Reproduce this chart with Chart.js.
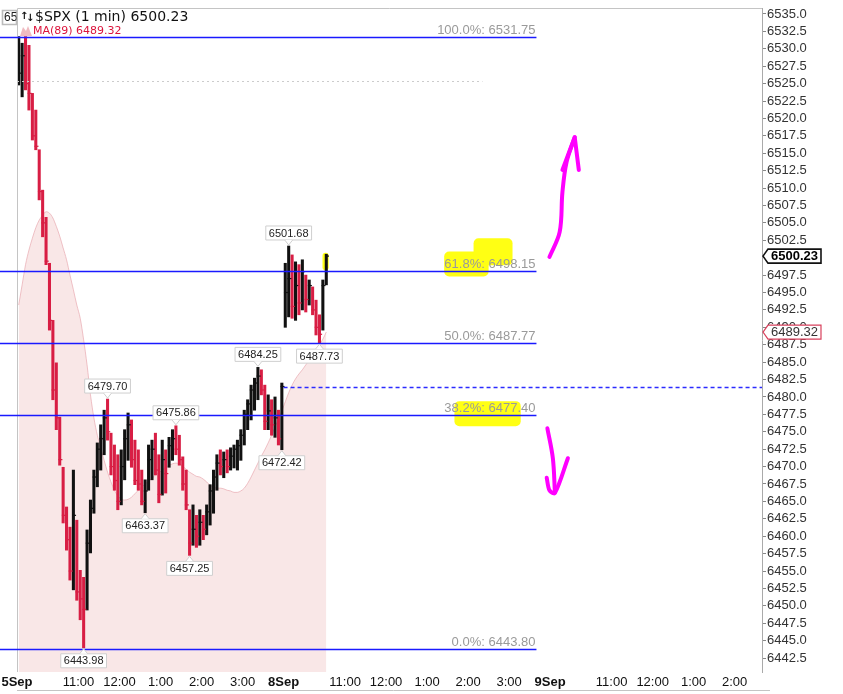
<!DOCTYPE html>
<html lang="en">
<head>
<meta charset="UTF-8">
<title>$SPX (1 min)</title>
<script src="https://cdn.jsdelivr.net/npm/chart.js"></script>
<style>
  html, body { margin: 0; padding: 0; background: #fff; }
  .wrap { width: 843px; height: 694px; position: relative; }
</style>
</head>
<body>
<div class="wrap"><canvas id="spx"></canvas></div>
<script>
// trading minutes counted from 5 Sep 09:30, one bar = 5 minutes
const barMinutes = 5;

// bars (5 Sep full session, then 8 Sep first hour)
const barHigh = [
  6531.75, 6530.8, 6531.75, 6530.5, 6523.6, 6521.2, 6515.5, 6509.7, 6505.8, 6499.2,
  6491.0, 6484.9, 6477.1, 6469.9, 6464.2, 6461.3, 6469.5, 6462.3, 6455.1, 6454.1,
  6460.9, 6465.2, 6469.5, 6473.4, 6476.0, 6478.1, 6479.70, 6474.8, 6473.1, 6471.7,
  6472.4, 6475.3, 6477.7, 6476.7, 6473.8, 6472.4, 6469.5, 6468.1, 6473.1, 6473.8,
  6474.8, 6471.7, 6473.8, 6472.4, 6474.2, 6475.3, 6475.86, 6474.5, 6471.4, 6469.5,
  6463.8, 6464.5, 6463.0, 6463.8, 6463.0, 6464.5, 6467.4, 6469.5, 6471.7, 6472.4,
  6472.1, 6472.4, 6472.7, 6473.1, 6473.8, 6475.3, 6478.1, 6479.6, 6481.7, 6482.7,
  6484.25, 6483.9, 6481.7, 6480.3, 6479.6, 6480.0, 6478.1, 6482.0,
  6499.2, 6501.68, 6500.4, 6499.4, 6499.0, 6499.7, 6497.5, 6496.8, 6495.8, 6493.9, 6491.8, 6496.8, 6500.5
];
const barLow = [
  6524.8, 6523.1, 6524.1, 6521.2, 6516.9, 6515.5, 6508.3, 6503.0, 6499.0, 6489.6,
  6479.6, 6475.3, 6470.2, 6461.9, 6458.0, 6453.7, 6452.3, 6450.8, 6448.0, 6443.98,
  6449.4, 6457.6, 6463.3, 6467.1, 6469.5, 6471.7, 6473.8, 6468.8, 6466.6, 6463.8,
  6464.5, 6468.1, 6470.9, 6469.9, 6467.4, 6466.6, 6464.5, 6463.37, 6466.6, 6468.1,
  6468.8, 6464.8, 6465.9, 6466.2, 6469.9, 6470.9, 6471.7, 6470.2, 6466.6, 6463.8,
  6457.25, 6458.7, 6458.4, 6458.7, 6459.5, 6460.2, 6461.6, 6463.3, 6466.6, 6468.8,
  6468.4, 6469.1, 6469.5, 6469.8, 6469.5, 6470.9, 6473.1, 6475.3, 6476.7, 6478.1,
  6479.6, 6480.3, 6475.3, 6475.3, 6474.5, 6474.2, 6473.1, 6472.42,
  6490.0, 6491.5, 6491.3, 6491.0, 6491.8, 6492.5, 6492.2, 6493.2, 6491.8, 6488.9, 6487.73, 6489.6, 6496.1
];
const barClose = [
  6526.5, 6529.0, 6525.0, 6523.6, 6517.5, 6516.0, 6509.5, 6505.0, 6499.5, 6491.0,
  6481.0, 6477.0, 6471.0, 6463.0, 6459.5, 6455.0, 6463.0, 6452.0, 6451.0, 6449.5,
  6459.0, 6464.0, 6468.5, 6472.5, 6474.0, 6477.0, 6475.0, 6470.0, 6468.0, 6465.0,
  6470.0, 6474.0, 6476.0, 6471.0, 6468.0, 6467.5, 6465.0, 6466.5, 6471.0, 6472.5,
  6469.5, 6466.0, 6471.0, 6469.0, 6473.0, 6474.0, 6472.5, 6471.0, 6467.5, 6464.5,
  6459.0, 6461.0, 6460.0, 6462.0, 6461.0, 6463.5, 6466.5, 6468.5, 6470.5, 6470.0,
  6471.0, 6470.0, 6471.5, 6472.5, 6473.0, 6474.5, 6477.5, 6479.0, 6481.0, 6482.0,
  6483.0, 6481.0, 6476.5, 6478.0, 6476.0, 6477.0, 6474.0, 6481.5,
  6495.0, 6497.0, 6493.0, 6496.0, 6493.5, 6498.0, 6494.0, 6496.0, 6492.5, 6490.0, 6489.0, 6496.0, 6500.23
];
// MA(89) as drawn by the pink mountain
const ma89 = [
  6493.2, 6496.1, 6499.0, 6501.1, 6502.8, 6504.3, 6505.4, 6506.1, 6506.6, 6506.4,
  6505.7, 6504.5, 6503.1, 6501.4, 6499.7, 6497.5, 6495.4, 6493.2, 6491.3, 6488.2,
  6484.6, 6480.3, 6477.0, 6474.5, 6472.7, 6470.9, 6469.2, 6467.8, 6466.6, 6465.8,
  6465.3, 6465.2, 6465.3, 6465.6, 6466.1, 6466.6, 6467.1, 6467.5, 6467.9, 6468.3,
  6468.8, 6469.1, 6469.5, 6469.9, 6470.2, 6470.4, 6470.5, 6470.4, 6470.1, 6469.6,
  6469.2, 6468.9, 6468.6, 6468.5, 6468.2, 6467.8, 6467.3, 6467.1, 6466.9, 6466.9,
  6466.8, 6466.6, 6466.5, 6466.3, 6466.3, 6466.5, 6466.9, 6467.6, 6468.5, 6469.5,
  6470.5, 6471.5, 6472.4, 6473.4, 6474.5, 6475.7, 6476.8, 6478.0,
  6479.3, 6480.6, 6481.7, 6482.6, 6483.3, 6483.9, 6484.6, 6485.3, 6486.0, 6486.7, 6487.5, 6488.3, 6489.32
];

// x axis
const timeTicks = [0, 90, 150, 210, 270, 330, 390, 480, 540, 600, 660, 720, 780, 870, 930, 990, 1050];
const timeLabels = ['5Sep', '11:00', '12:00', '1:00', '2:00', '3:00', '8Sep', '11:00', '12:00', '1:00', '2:00', '3:00', '9Sep', '11:00', '12:00', '1:00', '2:00'];

// fibonacci retracement
const fibLevels = [6531.75, 6498.15, 6487.77, 6477.40, 6443.80];
const fibPct = ['100.0%', '61.8%', '50.0%', '38.2%', '0.0%'];
const fibEnd = 760;
const prevClose = 6481.5;
const dottedLevel = 6525.4;
const dottedEnd = 681;

// high/low callouts: bar index + side
const calloutBars = [79, 70, 88, 26, 46, 77, 37, 50, 19];
const calloutSide = ['above', 'above', 'below', 'above', 'above', 'below', 'below', 'below', 'below'];

// highlighter strokes [minute from, minute to, price top, price bottom]
const marker = [
  [625, 690, 6500.9, 6497.3],
  [668, 725, 6502.8, 6498.9],
  [640, 737, 6479.4, 6475.8],
  [447, 456, 6500.7, 6498.2]
];

// hand drawn arrows
const arrowUp = [[779, 6500.1], [794, 6503.7], [798, 6509.4], [804, 6513.7], [816, 6517.3]];
const arrowUpHead = [[798, 6512.6], [816, 6517.3], [822, 6512.6]];
const arrowDown = [[776, 6475.5], [784, 6471.2], [787, 6466.3]];
const arrowDownHead = [[775, 6468.4], [779, 6466.6], [787, 6466.2], [806, 6471.2]];

const lastPrice = 6500.23;
const maLast = 6489.32;

const RED = '#d81e44';
const BLUE = '#1a1aff';
const SANS = '"Liberation Sans", Arial, sans-serif';

const barX = i => i * barMinutes + barMinutes / 2;
const barColors = barClose.map((c, i) => (i > 0 && c < barClose[i - 1]) ? RED : '#111');
const pts = arr => arr.map(p => ({ x: p[0], y: p[1] }));

const arrowStyle = {
  type: 'line', borderColor: '#ff00ff', borderWidth: 4, pointRadius: 0,
  borderCapStyle: 'round', borderJoinStyle: 'round', tension: 0.35, order: 0
};

function callout(ctx, x, y, text, side) {
  ctx.font = '11px ' + SANS;
  const w = ctx.measureText(text).width + 6, h = 14;
  const top = side === 'above' ? y - 6 - h : y + 6;
  const tip = side === 'above' ? top + h : top;
  ctx.beginPath();
  ctx.rect(x - w / 2, top, w, h);
  ctx.fillStyle = '#fff';
  ctx.fill();
  ctx.strokeStyle = '#cfcfcf';
  ctx.lineWidth = 1;
  ctx.stroke();
  ctx.beginPath();
  ctx.moveTo(x - 4, tip);
  ctx.lineTo(x, side === 'above' ? y - 1 : y + 1);
  ctx.lineTo(x + 4, tip);
  ctx.fillStyle = '#fff';
  ctx.fill();
  ctx.stroke();
  ctx.fillStyle = '#222';
  ctx.textAlign = 'center';
  ctx.textBaseline = 'middle';
  ctx.fillText(text, x, top + h / 2 + 0.5);
}

function priceTag(ctx, left, yc, text, border, color, bold) {
  ctx.font = (bold ? 'bold ' : '') + '13px ' + SANS;
  const w = ctx.measureText(text).width + 6, h = 14;
  ctx.beginPath();
  ctx.moveTo(left, yc);
  ctx.lineTo(left + 5, yc - h / 2);
  ctx.lineTo(left + 5 + w, yc - h / 2);
  ctx.lineTo(left + 5 + w, yc + h / 2);
  ctx.lineTo(left + 5, yc + h / 2);
  ctx.closePath();
  ctx.fillStyle = '#fff';
  ctx.fill();
  ctx.strokeStyle = border;
  ctx.lineWidth = bold ? 1.6 : 1.2;
  ctx.stroke();
  ctx.fillStyle = color;
  ctx.textAlign = 'left';
  ctx.textBaseline = 'middle';
  ctx.fillText(text, left + 8, yc + 0.5);
}

const overlay = {
  id: 'overlay',
  beforeDatasetsDraw(chart) {
    const { ctx, scales: { x, y } } = chart;
    ctx.save();
    ctx.fillStyle = '#ffff14';
    marker.forEach(([m0, m1, p0, p1]) => {
      const l = x.getPixelForValue(m0), r = x.getPixelForValue(m1);
      const t = y.getPixelForValue(p0), b = y.getPixelForValue(p1);
      ctx.beginPath();
      ctx.roundRect(l, t, r - l, b - t, 5);
      ctx.fill();
    });
    ctx.restore();
  },
  afterDraw(chart) {
    const { ctx, chartArea: a, scales: { x, y } } = chart;
    ctx.save();

    // frame
    ctx.strokeStyle = '#c4c4c4';
    ctx.lineWidth = 1;
    ctx.beginPath();
    ctx.moveTo(a.left + 0.5, a.bottom);
    ctx.lineTo(a.left + 0.5, a.top + 0.5);
    ctx.lineTo(a.right, a.top + 0.5);
    ctx.moveTo(a.left, 690.5);
    ctx.lineTo(a.right + 8, 690.5);
    ctx.stroke();

    // grey dotted level
    ctx.setLineDash([2, 3]);
    ctx.strokeStyle = '#cccccc';
    ctx.beginPath();
    const yd = Math.round(y.getPixelForValue(dottedLevel)) + 0.5;
    ctx.moveTo(a.left, yd);
    ctx.lineTo(x.getPixelForValue(dottedEnd), yd);
    ctx.stroke();

    // previous close
    ctx.setLineDash([4, 3]);
    ctx.strokeStyle = '#2b2bff';
    ctx.lineWidth = 1.4;
    ctx.beginPath();
    const yp = Math.round(y.getPixelForValue(prevClose)) + 0.5;
    ctx.moveTo(x.getPixelForValue(390), yp);
    ctx.lineTo(a.right, yp);
    ctx.stroke();
    ctx.setLineDash([]);

    // fibonacci lines + labels
    const xEnd = x.getPixelForValue(fibEnd);
    fibLevels.forEach((lv, i) => {
      const py = Math.round(y.getPixelForValue(lv)) + 0.5;
      ctx.strokeStyle = BLUE;
      ctx.lineWidth = 1.3;
      ctx.beginPath();
      ctx.moveTo(0, py);
      ctx.lineTo(xEnd, py);
      ctx.stroke();
      ctx.font = '13px ' + SANS;
      ctx.fillStyle = '#9a9a9a';
      ctx.textAlign = 'right';
      ctx.textBaseline = 'middle';
      ctx.fillText(fibPct[i] + ': ' + lv.toFixed(2), xEnd - 1, py - 7);
    });

    // high / low callouts
    calloutBars.forEach((b, i) => {
      const v = calloutSide[i] === 'above' ? barHigh[b] : barLow[b];
      callout(ctx, x.getPixelForValue(barX(b)), y.getPixelForValue(v), v.toFixed(2), calloutSide[i]);
    });

    // price tags on the axis
    priceTag(ctx, a.right + 1, y.getPixelForValue(maLast), maLast.toFixed(2), '#d8405c', '#333', false);
    priceTag(ctx, a.right + 1, y.getPixelForValue(lastPrice), lastPrice.toFixed(2), '#111', '#000', true);

    // title block
    ctx.beginPath();
    ctx.rect(2.5, 10.5, 14, 14);
    ctx.fillStyle = '#fff';
    ctx.fill();
    ctx.strokeStyle = '#bbb';
    ctx.stroke();
    ctx.save();
    ctx.clip();
    ctx.font = '12px ' + SANS;
    ctx.fillStyle = '#222';
    ctx.textAlign = 'left';
    ctx.fillText('6535', 4, 18);
    ctx.restore();

    ctx.textAlign = 'left';
    ctx.textBaseline = 'middle';
    ctx.fillStyle = '#111';
    ctx.font = 'bold 10px "DejaVu Sans", Verdana, sans-serif';
    ctx.fillText('\u2191', 20, 16);
    ctx.fillText('\u2193', 26, 18);
    ctx.font = '14px "DejaVu Sans", Verdana, sans-serif';
    ctx.fillText('$SPX (1 min) ' + lastPrice.toFixed(2), 35, 17);

    ctx.fillStyle = 'rgba(225,130,140,0.55)';
    ctx.beginPath();
    ctx.moveTo(20, 36);
    ctx.lineTo(23, 27);
    ctx.lineTo(26, 31);
    ctx.lineTo(28, 26);
    ctx.lineTo(32, 36);
    ctx.closePath();
    ctx.fill();
    ctx.font = '11px "DejaVu Sans", Verdana, sans-serif';
    ctx.fillStyle = '#dc143c';
    ctx.fillText('MA(89) ' + maLast.toFixed(2), 33, 31);

    ctx.restore();
  }
};

Chart.defaults.font.family = SANS;

new Chart(document.getElementById('spx'), {
  type: 'bar',
  data: {
    datasets: [
      {
        type: 'bar',
        data: barHigh.map((h, i) => ({ x: barX(i), y: [barLow[i], h] })),
        backgroundColor: barColors,
        barThickness: 2.4,
        grouped: false,
        order: 2
      },
      {
        type: 'line',
        data: barClose.map((c, i) => ({ x: barX(i) + 1, y: c })),
        showLine: false,
        pointStyle: 'line',
        pointRadius: 2,
        pointBorderWidth: 1.2,
        pointBorderColor: barColors,
        order: 1
      },
      {
        type: 'line',
        data: ma89.map((v, i) => ({ x: barX(i), y: v })),
        borderColor: 'rgba(232,170,176,0.7)',
        borderWidth: 1,
        backgroundColor: 'rgba(236,180,180,0.32)',
        fill: 'start',
        pointRadius: 0,
        cubicInterpolationMode: 'monotone',
        order: 10
      },
      { ...arrowStyle, data: pts(arrowUp) },
      { ...arrowStyle, data: pts(arrowUpHead), tension: 0 },
      { ...arrowStyle, data: pts(arrowDown) },
      { ...arrowStyle, data: pts(arrowDownHead), tension: 0.3 }
    ]
  },
  options: {
    responsive: true,
    maintainAspectRatio: false,
    animation: false,
    layout: { padding: { left: 17, top: 8, right: 0, bottom: 0 } },
    plugins: { legend: { display: false }, tooltip: { enabled: false } },
    scales: {
      x: {
        type: 'linear',
        offset: false,
        min: 0,
        max: 1090,
        grid: { display: false, drawTicks: false },
        border: { display: false },
        afterBuildTicks: s => { s.ticks = timeTicks.map(v => ({ value: v })); },
        afterFit: s => { s.height = 22; s.paddingLeft = 0; s.paddingRight = 0; },
        ticks: {
          autoSkip: false,
          maxRotation: 0,
          padding: 3,
          color: '#111',
          font: c => ({ size: 13, weight: timeLabels[c.index] && timeLabels[c.index].includes('Sep') ? 'bold' : 'normal' }),
          callback: (v, i) => timeLabels[i]
        }
      },
      y: {
        position: 'right',
        min: 6440.5,
        max: 6535.86,
        grid: { drawOnChartArea: false, drawTicks: true, tickLength: 4, color: '#888' },
        border: { display: true, color: '#aaa' },
        afterFit: s => { s.width = 81; s.paddingTop = 0; s.paddingBottom = 0; },
        ticks: {
          stepSize: 2.5,
          includeBounds: false,
          autoSkip: false,
          padding: 1,
          color: '#333',
          font: { size: 13 },
          callback: v => v.toFixed(1)
        }
      }
    }
  },
  plugins: [overlay]
});
</script>
</body>
</html>
